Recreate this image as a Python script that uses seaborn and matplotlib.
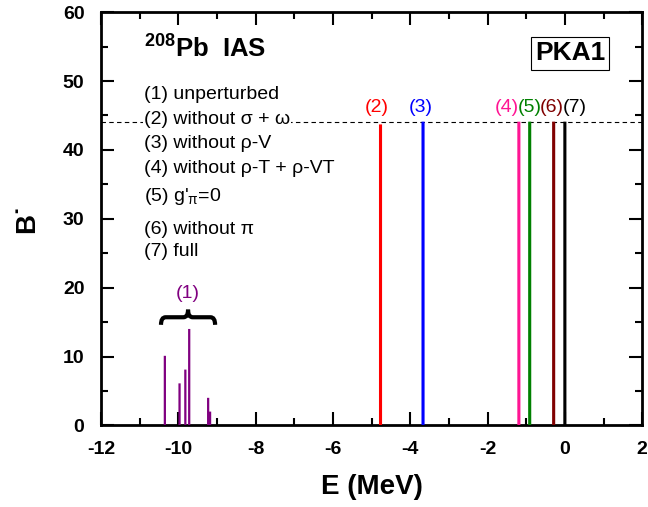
import numpy as np
import pandas as pd
import matplotlib
matplotlib.use("Agg")
import matplotlib.pyplot as plt
from matplotlib.path import Path
from matplotlib.patches import PathPatch
from matplotlib.ticker import MultipleLocator
import seaborn as sns

# ---------------- data ----------------
unpert_E = [-10.35, -9.97, -9.82, -9.72, -9.23, -9.18]
unpert_B = [10.1, 6.1, 8.1, 14.0, 4.0, 2.0]

case_labels = ["(2)", "(3)", "(4)", "(5)", "(6)", "(7)"]
case_E = [-4.77, -3.67, -1.19, -0.91, -0.29, 0.0]
case_B = [43.7, 44.1, 44.1, 44.1, 44.1, 44.1]
case_colors = ["#ff0000", "#0000ff", "#ff1493", "#008000", "#800000", "#000000"]
label_E = [-4.88, -3.73, -1.50, -0.91, -0.34, 0.25]

legend_lines = ["(1) unperturbed", "(2) without σ + ω", "(3) without ρ-V",
                "(4) without ρ-T + ρ-VT", "(5) g'$_{π}$=0", "(6) without π", "(7) full"]
legend_y = [48.0, 44.4, 40.9, 37.3, 33.3, 28.4, 25.2]

ref_level = 44.0
xticks = list(range(-12, 3, 2))
yticks = list(range(0, 61, 10))

# ---------------- style ----------------
sns.set_theme(style="ticks")
plt.rcParams["font.family"] = ["Liberation Sans", "DejaVu Sans"]
plt.rcParams["mathtext.default"] = "regular"
plt.rcParams["axes.linewidth"] = 2.0
plt.rcParams["axes.edgecolor"] = "black"
plt.rcParams["xtick.color"] = "black"
plt.rcParams["ytick.color"] = "black"
plt.rcParams["text.color"] = "black"
plt.rcParams["axes.labelcolor"] = "black"

fig = plt.figure(figsize=(6.48, 5.07), dpi=100)
ax = fig.add_axes([0.156, 0.161, 0.835, 0.815])

purple = "#800080"
df1 = pd.DataFrame({"E": unpert_E, "B": unpert_B})
sns.barplot(data=df1, x="E", y="B", native_scale=True, color=purple,
            width=1.0, linewidth=0, saturation=1, ax=ax, zorder=3)
n1 = len(ax.patches)

df2 = pd.DataFrame({"E": case_E, "B": case_B, "case": case_labels})
sns.barplot(data=df2, x="E", y="B", hue="case", native_scale=True,
            palette=dict(zip(case_labels, case_colors)), dodge=False,
            width=0.25, linewidth=0, saturation=1, legend=False, ax=ax, zorder=3)

# make bars look like thin spectral lines of uniform width
for i, p in enumerate(ax.patches):
    w = 0.058 if i < n1 else 0.08
    cx = p.get_x() + p.get_width() / 2
    p.set_x(cx - w / 2)
    p.set_width(w)
    p.set_snap(False)

ax.axhline(ref_level, ls=(0, (4, 3)), lw=0.8, color="black", zorder=1)

# labels above lines
for lab, xe, c in zip(case_labels, label_E, case_colors):
    ax.text(xe, 46.2, lab, color=c, fontsize=14, ha="center", va="center", zorder=4)

# group (1) brace and label
x0, x1 = min(unpert_E) - 0.1, max(unpert_E) + 0.13
xm = (x0 + x1) / 2
yb, ymid, yt = 14.6, 15.7, 16.8
d = 0.12
verts = [(x0, yb), (x0, ymid), (x0 + d, ymid), (xm - d, ymid), (xm, ymid), (xm, yt),
         (xm, ymid), (xm + d, ymid), (x1 - d, ymid), (x1, ymid), (x1, yb)]
codes = [Path.MOVETO, Path.CURVE3, Path.CURVE3, Path.LINETO, Path.CURVE3, Path.CURVE3,
         Path.CURVE3, Path.CURVE3, Path.LINETO, Path.CURVE3, Path.CURVE3]
ax.add_patch(PathPatch(Path(verts, codes), fill=False, lw=3, color="black", zorder=4))
ax.text(xm, 19.2, "(1)", color=purple, fontsize=14, ha="center", va="center")

# legend block
for i, (t, yv) in enumerate(zip(legend_lines, legend_y)):
    kw = {}
    if i == 1:
        kw["bbox"] = dict(facecolor="white", edgecolor="none", pad=1)
    ax.text(-10.89, yv, t, fontsize=14, ha="left", va="center", zorder=5, **kw)

ax.text(-10.89, 53.4, "$^{208}$Pb  IAS", fontsize=18.5, fontweight="bold",
        ha="left", va="baseline")
ax.text(0.135, 54.0, "PKA1", fontsize=19, fontweight="bold", ha="center", va="center",
        bbox=dict(facecolor="white", edgecolor="black", lw=0.8, pad=3))

# axes
ax.set_xlim(-12, 2)
ax.set_ylim(0, 60)
ax.set_xticks(xticks)
ax.set_yticks(yticks)
ax.set_xticklabels([str(v) for v in xticks])
ax.set_yticklabels([str(v) for v in yticks])
ax.xaxis.set_minor_locator(MultipleLocator(1))
ax.yaxis.set_minor_locator(MultipleLocator(5))
ax.tick_params(which="both", direction="in", top=True, right=True, width=1.5)
ax.tick_params(which="major", length=9.5, labelsize=14)
ax.tick_params(axis="x", which="major", pad=11)
ax.tick_params(axis="y", which="major", pad=12)
ax.tick_params(which="minor", length=5)
for lab in ax.get_xticklabels() + ax.get_yticklabels():
    lab.set_fontweight("bold")
for s in ax.spines.values():
    s.set_visible(True)
    s.set_linewidth(2.0)
ax.set_xlabel("E (MeV)", fontsize=20, fontweight="bold", labelpad=12)
ax.set_ylabel("B˙", fontsize=20, fontweight="bold", labelpad=16)
ax.grid(False)

fig.savefig("out.png", dpi=100)
